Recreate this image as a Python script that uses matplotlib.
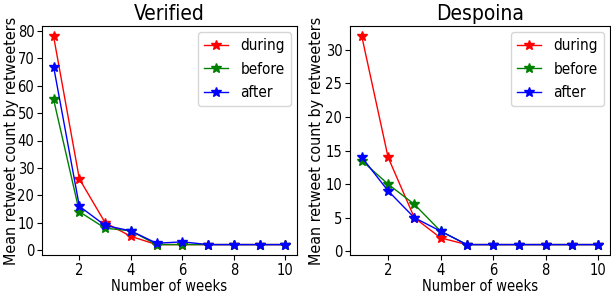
import matplotlib
matplotlib.use("Agg")
import matplotlib.pyplot as plt

weeks = [1, 2, 3, 4, 5, 6, 7, 8, 9, 10]

# Verified
ver_during = [78, 26, 10, 5, 2, 2, 2, 2, 2, 2]
ver_before = [55, 14, 8, 7, 2, 2, 2, 2, 2, 2]
ver_after = [67, 16, 9, 7, 2.5, 3, 2, 2, 2, 2]

# Despoina
des_during = [32, 14, 5, 2, 1, 1, 1, 1, 1, 1]
des_before = [13.5, 10, 7, 3, 1, 1, 1, 1, 1, 1]
des_after = [14, 9, 5, 3, 1, 1, 1, 1, 1, 1]

plt.rcParams['font.family'] = ['DejaVu Sans']
plt.rcParams['font.stretch'] = 'condensed'

fig = plt.figure(figsize=(6.11, 2.97), dpi=100)
ax1 = fig.add_axes([42/611, 42/297, 255/611, 229/297])
ax2 = fig.add_axes([350/611, 42/297, 260/611, 229/297])


def draw(ax, title, during, before, after, yticks, label_x):
    ax.plot(weeks, during, 'r-*', label='during', linewidth=1, markersize=7.5)
    ax.plot(weeks, before, 'g-*', label='before', linewidth=1, markersize=7.5)
    ax.plot(weeks, after, 'b-*', label='after', linewidth=1, markersize=7.5)
    ax.set_title(title, fontsize=15, pad=4)
    ax.set_xlabel('Number of weeks', fontsize=10.5, labelpad=1)
    ax.set_ylabel('Mean retweet count by retweeters', fontsize=11.5)
    ax.yaxis.set_label_coords(label_x, 0.5)
    ax.set_xticks([2, 4, 6, 8, 10])
    ax.set_yticks(yticks)
    ax.tick_params(labelsize=10.5, pad=2)
    ax.legend(loc='upper right', fontsize=11, handlelength=1.6,
              labelspacing=0.55, borderaxespad=0.4)


draw(ax1, 'Verified', ver_during, ver_before, ver_after,
     [0, 10, 20, 30, 40, 50, 60, 70, 80], -0.092)
draw(ax2, 'Despoina', des_during, des_before, des_after,
     [0, 5, 10, 15, 20, 25, 30], -0.1)

fig.savefig('out.png', dpi=100)
